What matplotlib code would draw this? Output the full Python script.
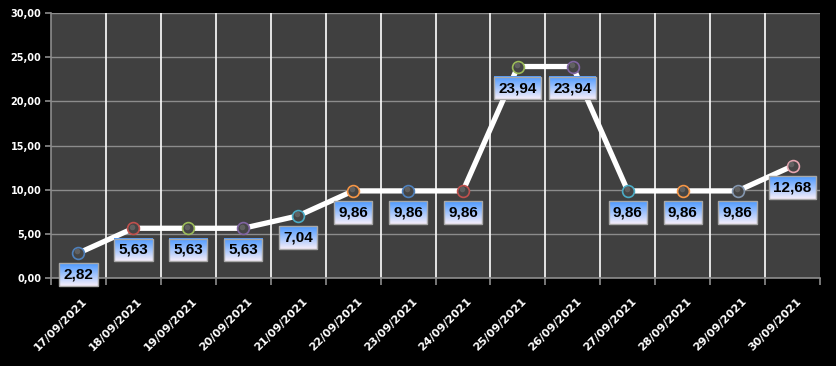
import matplotlib

matplotlib.use('Agg')
import numpy as np
import matplotlib.pyplot as plt
import matplotlib.ticker as ticker

# Data
dates = ['17/09/2021', '18/09/2021', '19/09/2021', '20/09/2021', '21/09/2021',
         '22/09/2021', '23/09/2021', '24/09/2021', '25/09/2021', '26/09/2021',
         '27/09/2021', '28/09/2021', '29/09/2021', '30/09/2021']
values = [2.82, 5.63, 5.63, 5.63, 7.04, 9.86, 9.86, 9.86, 23.94, 23.94,
          9.86, 9.86, 9.86, 12.68]
edge_colors = ['#4F81BD', '#C0504D', '#9BBB59', '#8064A2', '#4BACC6', '#F79646',
               '#4F81BD', '#C0504D', '#9BBB59', '#8064A2', '#4BACC6', '#F79646',
               '#8497B0', '#E6A5B0']

plt.rcParams['font.family'] = ['DejaVu Sans']

fig = plt.figure(figsize=(8.37, 3.66), dpi=100, facecolor='black')
ax = fig.add_axes([51 / 837, 1 - 278 / 366, (820 - 51) / 837, (278 - 13) / 366])
ax.set_facecolor('#404040')

x = np.arange(len(dates))

# Line and markers
ax.plot(x, values, color='white', linewidth=3.8, zorder=3, solid_capstyle='butt')
for xi, v, ec in zip(x, values, edge_colors):
    ax.plot(xi, v, marker='o', markersize=8.5, markerfacecolor='#454545',
            markeredgecolor=ec, markeredgewidth=1.2, zorder=4)
    ax.plot(xi - 0.02, v + 0.2, marker='o', markersize=4, markerfacecolor='#686868',
            markeredgewidth=0, zorder=4, alpha=0.8)

ax.set_xlim(-0.5, len(dates) - 0.5)
ax.set_ylim(0, 30)

# Axes styling
for side in ['top', 'right']:
    ax.spines[side].set_visible(False)
for side in ['left', 'bottom']:
    ax.spines[side].set_color('#8c8c8c')
    ax.spines[side].set_linewidth(1.2)

ax.yaxis.set_major_locator(ticker.MultipleLocator(5))
ax.yaxis.set_major_formatter(ticker.FuncFormatter(lambda v, p: f'{v:.2f}'.replace('.', ',')))
ax.tick_params(axis='y', colors='#8c8c8c', labelcolor='white', length=4, width=1.2,
               labelsize=7, pad=3)
for lab in ax.get_yticklabels():
    lab.set_fontweight('bold')
ax.yaxis.grid(True, color='#8c8c8c', linewidth=1.0)

ax.set_xticks(x + 0.07)
ax.set_xticklabels(dates, rotation=45, ha='right', va='top', rotation_mode='anchor',
                   fontsize=8, fontweight='bold', color='white')
ax.tick_params(axis='x', which='major', length=0, pad=13)
ax.set_xticks(np.arange(-0.5, len(dates)), minor=True)
ax.tick_params(axis='x', which='minor', length=5, width=1.2, color='#8c8c8c')
for b in np.arange(0.5, len(dates) - 1):
    ax.axvline(b, color='white', linewidth=1.2, zorder=1)
ax.set_axisbelow(True)

# Data labels with gradient boxes
texts = []
for xi, v in zip(x, values):
    t = ax.annotate(f'{v:.2f}'.replace('.', ','), (xi, v), xytext=(0, -15.5),
                    textcoords='offset points', ha='center', va='center',
                    fontsize=11, fontweight='bold', color='black', zorder=7,
                    family='Liberation Sans',
                    bbox=dict(boxstyle='square,pad=0.28', fc='none', ec='#a8a8a8', lw=1.0))
    texts.append(t)

fig.canvas.draw()
grad = np.linspace(0, 1, 64).reshape(-1, 1)
top = np.array([0x4a, 0x98, 0xff]) / 255
bot = np.array([0xf6, 0xee, 0xfa]) / 255
img = (top[None, None, :] * (1 - grad[..., None]) + bot[None, None, :] * grad[..., None])
inv = ax.transData.inverted()
for t in texts:
    bb = t.get_bbox_patch().get_window_extent()
    (x0, y0), (x1, y1) = inv.transform([(bb.x0, bb.y0), (bb.x1, bb.y1)])
    ax.imshow(img, extent=(x0, x1, y0, y1), aspect='auto', zorder=6,
              interpolation='bilinear', origin='upper', clip_on=False)

ax.set_xlim(-0.5, len(dates) - 0.5)
ax.set_ylim(0, 30)

fig.savefig('out.png', dpi=100, facecolor='black')
